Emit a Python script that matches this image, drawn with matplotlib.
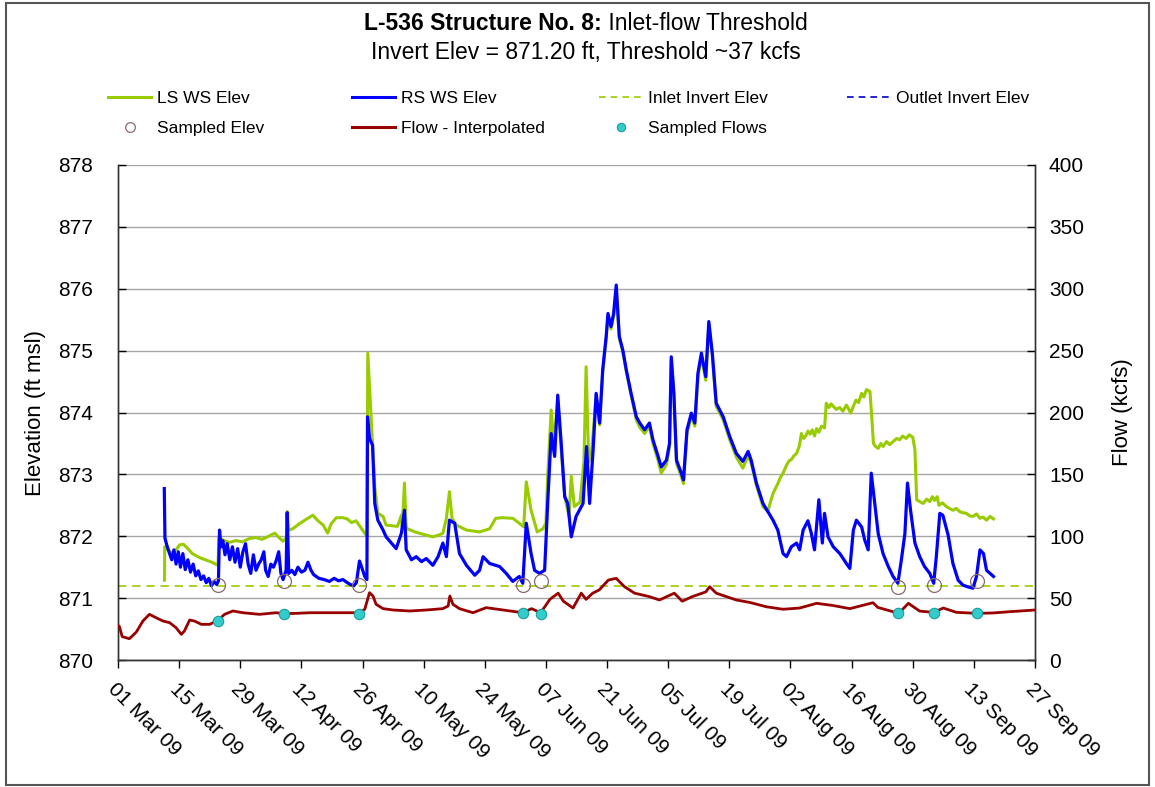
import numpy as np
import pandas as pd
import matplotlib
matplotlib.use("Agg")
import matplotlib.pyplot as plt
from matplotlib.lines import Line2D
from matplotlib.patches import Rectangle

plt.rcParams['font.family'] = ['Liberation Sans', 'DejaVu Sans']

# ---------------- data (days since 01 Mar 2009) ----------------
start_date = "2009-03-01"
end_date = "2009-09-27"

ls_days = [10.65, 10.7, 11.5, 12.5, 13.5, 14.1, 15.0, 16.0, 17.0, 18.5, 20.0, 21.5, 22.9, 23.1, 24.0, 25.5,
           27.0, 28.5, 30.0, 31.5, 33.0, 34.5, 35.9, 37.0, 37.8, 38.6, 38.75, 39.0, 40.0, 41.5, 43.0, 44.6,
           45.8, 47.0, 48.0, 48.8, 50.0, 51.5, 52.5, 53.5, 54.5, 55.5, 56.5, 57.0, 57.2, 57.6, 58.0, 58.8,
           59.5, 60.7, 61.4, 64.0, 64.9, 65.1, 65.6, 66.0, 68.0, 70.0, 72.1, 73.5, 74.4, 75.2, 75.9, 76.5,
           77.5, 79.8, 82.8, 85.1, 86.5, 88.0, 90.4, 91.9, 92.9, 93.5, 94.6, 96.0, 97.3, 98.0, 98.4, 99.2,
           99.8, 100.7, 101.5, 102.3, 103.3, 103.8, 104.5, 105.8, 106.7, 107.2, 107.8, 108.5, 109.5, 110.3,
           111.0, 111.8, 112.2, 112.9, 113.5, 114.1, 114.8, 115.6, 116.4, 117.5, 118.7, 119.5, 120.6, 121.7,
           122.5, 123.7, 124.4, 125.6, 126.3, 126.7, 127.3, 127.9, 129.0, 129.5, 130.3, 131.3, 132.1, 132.8,
           133.6, 134.6, 135.3, 136.1, 137.0, 138.6, 140.1, 141.6, 143.1, 144.3, 145.0, 146.2, 147.7, 148.8,
           149.4, 150.0, 150.6, 151.1, 151.7, 152.3, 152.8, 153.1, 153.7, 154.2, 154.8, 155.4, 156.0, 156.5,
           157.0, 157.5, 158.0, 158.5, 159.0, 159.5, 160.0, 160.5, 161.1, 161.8, 162.2, 162.8, 163.3, 163.8,
           164.5, 165.3, 166.0, 166.8, 167.3, 167.8, 168.4, 169.0, 169.6, 170.3, 170.8, 171.4, 172.2, 172.5,
           173.0, 173.5, 174.1, 174.7, 175.2, 176.0, 176.7, 177.5, 178.3, 179.0, 179.7, 180.5, 181.2, 182.0,
           182.5, 182.9, 183.6, 184.4, 185.2, 185.9, 186.5, 187.0, 187.6, 188.0, 188.8, 189.7, 190.4, 191.2,
           192.0, 192.7, 193.5, 194.3, 195.0, 195.8, 196.6, 197.4, 198.1, 198.9, 199.7, 200.5]
ls_elev = [871.29, 871.83, 871.78, 871.72, 871.80, 871.86, 871.87, 871.80, 871.72, 871.66, 871.62, 871.58, 871.53,
           871.97, 871.94, 871.90, 871.93, 871.91, 871.96, 871.98, 871.95, 872.00, 872.05, 871.97, 871.92, 871.98,
           872.40, 872.10, 872.12, 872.20, 872.27, 872.34, 872.25, 872.18, 872.05, 872.20, 872.30, 872.30, 872.28,
           872.22, 872.25, 872.15, 872.05, 872.00, 874.96, 874.42, 873.88, 872.80, 872.37, 872.32, 872.18, 872.16,
           872.34, 872.16, 872.86, 872.13, 872.07, 872.03, 871.99, 872.02, 872.05, 872.29, 872.72, 872.29, 872.18,
           872.10, 872.07, 872.12, 872.29, 872.30, 872.29, 872.21, 872.15, 872.88, 872.42, 872.07, 872.12, 872.21,
           872.97, 874.04, 873.50, 874.20, 873.40, 872.64, 872.32, 872.97, 872.48, 872.55, 873.20, 874.74, 873.20,
           873.40, 874.28, 873.80, 874.65, 875.20, 875.55, 875.35, 875.55, 876.00, 875.20, 874.98, 874.66, 874.28,
           873.88, 873.76, 873.66, 873.78, 873.50, 873.22, 873.02, 873.16, 873.45, 874.85, 874.28, 873.18, 872.96,
           872.85, 873.66, 873.94, 873.78, 874.58, 874.90, 874.52, 875.42, 874.92, 874.10, 873.88, 873.56, 873.28,
           873.10, 873.30, 873.18, 872.82, 872.48, 872.40, 872.55, 872.69, 872.78, 872.85, 872.95, 873.02, 873.10,
           873.15, 873.22, 873.24, 873.30, 873.34, 873.45, 873.66, 873.58, 873.62, 873.70, 873.65, 873.72, 873.62,
           873.74, 873.68, 873.78, 873.75, 874.15, 874.08, 874.14, 874.10, 874.05, 874.08, 874.02, 874.12, 874.06,
           873.99, 874.10, 874.20, 874.16, 874.31, 874.25, 874.37, 874.34, 874.05, 873.50, 873.45, 873.42, 873.50,
           873.45, 873.53, 873.48, 873.53, 873.58, 873.56, 873.62, 873.58, 873.64, 873.60, 873.40, 872.59, 872.56,
           872.53, 872.60, 872.56, 872.64, 872.58, 872.64, 872.50, 872.54, 872.48, 872.45, 872.42, 872.45, 872.40,
           872.38, 872.37, 872.33, 872.32, 872.36, 872.29, 872.31, 872.26, 872.32, 872.28]

rs_days = [10.6, 10.75, 11.2, 11.8, 12.3, 12.8, 13.3, 13.8, 14.3, 14.85, 15.4, 16.0, 16.6, 17.2, 17.8, 18.4,
           19.0, 19.6, 20.2, 20.8, 21.4, 22.0, 22.6, 23.0, 23.25, 23.6, 24.0, 24.5, 25.0, 25.6, 26.2, 26.8,
           27.4, 28.0, 28.6, 29.2, 29.8, 30.4, 31.0, 31.6, 32.2, 32.8, 33.4, 33.8, 34.4, 35.0, 35.6, 36.2,
           36.8, 37.3, 37.8, 38.5, 38.75, 39.1, 39.8, 40.5, 41.2, 42.0, 42.8, 43.5, 44.2, 44.8, 46.0, 47.2,
           48.4, 49.5, 50.5, 51.5, 52.5, 53.2, 54.0, 54.6, 55.3, 55.8, 56.5, 57.0, 57.15, 57.6, 58.3, 58.8,
           59.5, 60.7, 61.4, 63.7, 64.9, 65.6, 66.0, 67.2, 68.3, 69.5, 70.6, 72.1, 73.3, 74.4, 75.2, 75.9,
           77.1, 78.2, 79.8, 81.7, 82.8, 83.6, 85.1, 87.4, 88.9, 90.4, 91.9, 92.7, 93.5, 94.6, 95.4, 96.5,
           97.7, 98.4, 99.2, 100.0, 100.7, 101.5, 102.3, 103.0, 103.8, 104.9, 106.5, 107.3, 108.0, 108.8,
           109.5, 110.3, 111.0, 111.8, 112.2, 112.9, 113.5, 114.1, 114.8, 115.6, 116.4, 117.5, 118.7, 119.5,
           120.6, 121.7, 122.5, 123.7, 124.4, 125.6, 126.3, 126.7, 127.3, 127.9, 129.0, 129.5, 130.3, 131.3,
           132.1, 132.8, 133.6, 134.6, 135.3, 136.1, 137.0, 138.6, 140.1, 141.6, 143.1, 144.3, 145.0, 146.2,
           147.7, 150.0, 151.1, 152.3, 153.1, 154.2, 155.4, 156.1, 156.9, 158.0, 158.8, 159.5, 160.5, 161.3,
           161.8, 162.6, 163.8, 165.3, 166.8, 167.6, 168.4, 169.1, 170.3, 171.0, 171.8, 172.5, 173.3, 174.1,
           175.2, 176.4, 177.5, 178.6, 179.4, 180.2, 180.8, 181.5, 182.5, 183.6, 184.7, 185.9, 186.8, 187.4,
           188.2, 188.9, 190.1, 191.2, 192.4, 193.5, 194.7, 195.8, 196.6, 197.4, 198.2, 198.9, 199.7, 200.5]
rs_elev = [872.77, 871.97, 871.85, 871.72, 871.62, 871.78, 871.55, 871.75, 871.50, 871.72, 871.46, 871.62, 871.42,
           871.55, 871.36, 871.44, 871.30, 871.36, 871.25, 871.32, 871.20, 871.27, 871.22, 871.28, 872.10, 871.83,
           871.93, 871.70, 871.88, 871.62, 871.83, 871.58, 871.80, 871.50, 871.75, 871.88, 871.55, 871.40, 871.70,
           871.45, 871.55, 871.62, 871.75, 871.45, 871.35, 871.55, 871.50, 871.60, 871.75, 871.40, 871.30, 871.45,
           872.38, 871.40, 871.45, 871.38, 871.50, 871.42, 871.45, 871.58, 871.45, 871.38, 871.32, 871.30, 871.27,
           871.32, 871.28, 871.30, 871.25, 871.22, 871.20, 871.25, 871.60, 871.50, 871.35, 871.30, 873.93, 873.58,
           873.47, 872.53, 872.26, 872.10, 871.99, 871.80, 872.05, 872.42, 871.78, 871.62, 871.67, 871.59, 871.64,
           871.53, 871.67, 871.89, 871.67, 872.26, 872.21, 871.72, 871.53, 871.37, 871.45, 871.67, 871.56, 871.51,
           871.40, 871.27, 871.35, 871.24, 872.21, 871.72, 871.45, 871.40, 871.45, 872.53, 873.66, 873.29, 874.28,
           873.50, 872.64, 872.53, 871.99, 872.32, 872.53, 873.45, 872.53, 873.39, 874.31, 873.83, 874.69, 875.23,
           875.60, 875.39, 875.60, 876.06, 875.23, 875.01, 874.69, 874.31, 873.93, 873.83, 873.72, 873.83, 873.56,
           873.29, 873.12, 873.23, 873.50, 874.90, 874.31, 873.23, 873.02, 872.91, 873.72, 873.99, 873.83, 874.63,
           874.96, 874.58, 875.47, 874.96, 874.15, 873.93, 873.61, 873.34, 873.21, 873.37, 873.23, 872.86, 872.53,
           872.26, 872.10, 871.72, 871.67, 871.83, 871.89, 871.78, 872.10, 872.25, 872.04, 871.78, 872.59, 871.89,
           872.37, 871.99, 871.83, 871.72, 871.56, 871.48, 872.10, 872.26, 872.15, 871.94, 871.78, 873.02, 872.53,
           872.04, 871.72, 871.51, 871.35, 871.24, 871.62, 872.04, 872.86, 872.42, 871.89, 871.67, 871.51, 871.40,
           871.24, 871.67, 872.37, 872.34, 872.02, 871.56, 871.29, 871.21, 871.18, 871.16, 871.35, 871.78, 871.72,
           871.45, 871.40, 871.35]

flow_days = [0.0, 0.34, 0.96, 2.6, 4.2, 5.7, 7.2, 8.7, 10.3, 11.8, 13.3, 14.5, 15.2, 16.4, 17.5, 19.1, 21.0,
             23.0, 24.4, 26.3, 28.6, 32.4, 36.2, 38.1, 40.8, 43.9, 47.7, 51.5, 55.2, 56.5, 57.6, 58.4, 59.1,
             60.7, 63.0, 66.8, 70.6, 74.4, 75.6, 76.0, 76.7, 78.2, 81.3, 84.3, 88.2, 92.7, 94.7, 96.8, 98.9,
             100.8, 102.0, 104.2, 106.1, 107.2, 108.7, 110.2, 112.3, 114.1, 115.2, 116.0, 118.3, 121.7, 124.0,
             127.4, 129.2, 131.5, 134.6, 135.5, 137.0, 141.6, 144.7, 148.5, 152.3, 156.1, 160.0, 163.8, 167.6,
             172.9, 174.0, 178.8, 181.0, 183.6, 186.8, 189.0, 192.0, 196.7, 200.3, 204.1, 210.0]
flow_kcfs = [28.0, 26.9, 18.9, 17.2, 22.6, 31.5, 36.9, 34.2, 31.5, 30.2, 26.1, 20.7, 23.4, 32.3, 31.5, 28.8,
             28.8, 32.3, 36.9, 39.6, 38.2, 36.9, 38.2, 37.4, 37.7, 38.2, 38.2, 38.2, 38.2, 40.9, 54.4, 51.7,
             45.0, 41.5, 40.4, 39.6, 40.4, 41.5, 43.6, 51.7, 45.0, 41.5, 38.2, 42.3, 40.4, 38.2, 41.5, 38.2,
             49.0, 54.0, 47.5, 42.0, 54.0, 49.0, 54.0, 56.6, 64.6, 66.0, 62.0, 59.2, 54.0, 51.2, 48.5, 54.0,
             47.5, 51.2, 55.0, 59.2, 54.0, 48.5, 46.5, 43.0, 41.0, 42.0, 45.8, 44.0, 41.5, 46.3, 42.5, 37.7,
             45.8, 39.5, 38.5, 42.0, 38.5, 37.7, 38.0, 39.0, 40.4]

sampled_days = [23.0, 38.1, 55.2, 92.7, 96.8, 178.7, 186.8, 196.7]
sampled_elev = [871.21, 871.28, 871.21, 871.21, 871.28, 871.18, 871.22, 871.27]
sampled_flow = [31.8, 36.9, 37.2, 37.7, 37.4, 37.7, 38.0, 38.0]

inlet_invert = 871.20

elev_ticks = [870, 871, 872, 873, 874, 875, 876, 877, 878]
flow_ticks = [0, 50, 100, 150, 200, 250, 300, 350, 400]

# ---------------- helpers ----------------
base = np.datetime64(start_date)


def to_dates(days):
    return base + (np.asarray(days, dtype=float) * 1440).round().astype('timedelta64[m]')


C_LS = '#99CC00'
C_RS = '#0000FF'
C_FLOW = '#990000'
C_INLET = '#99CC00'
C_OUTLET = '#0000CC'
C_CIRC = '#8A6A6A'
C_CYAN = '#33CCCC'

fig = plt.figure(figsize=(11.55, 7.87), dpi=100)
ax = fig.add_axes([118 / 1155, 1 - 660 / 787, (1035 - 118) / 1155, (660 - 165) / 787])
ax2 = ax.twinx()

# elevation lines (the outlet invert line is hidden under the inlet line in the original)
ax.axhline(inlet_invert, color=C_INLET, lw=1.2, dashes=(5, 3.5), zorder=2.1)
ax.plot(to_dates(ls_days), ls_elev, color=C_LS, lw=2.2, zorder=3)
ax.plot(to_dates(rs_days), rs_elev, color=C_RS, lw=2.3, zorder=4)
ax.plot(to_dates(sampled_days), sampled_elev, ls='none', marker='o', ms=10,
        mfc='none', mec=C_CIRC, mew=0.9, zorder=5)

# flow
ax2.plot(to_dates(flow_days), flow_kcfs, color=C_FLOW, lw=2.0, zorder=3)
ax2.plot(to_dates(sampled_days), sampled_flow, ls='none', marker='o', ms=7.5,
         mfc=C_CYAN, mec='#1A9C9C', mew=0.8, zorder=4)

# axes
xt = pd.date_range(start_date, end_date, freq='14D')
ax.set_xlim(np.datetime64(start_date), np.datetime64(end_date))
ax.set_xticks(xt)
ax.set_xticklabels([d.strftime('%d %b %y') for d in xt], rotation=-45,
                   ha='left', va='top', rotation_mode='anchor', fontsize=15)
ax.set_ylim(elev_ticks[0], elev_ticks[-1])
ax.set_yticks(elev_ticks)
ax.set_yticklabels([str(v) for v in elev_ticks], fontsize=15)
ax2.set_ylim(flow_ticks[0], flow_ticks[-1])
ax2.set_yticks(flow_ticks)
ax2.set_yticklabels([str(v) for v in flow_ticks], fontsize=15)

ax.tick_params(axis='x', direction='out', length=6, width=1, pad=8)
ax.tick_params(axis='y', direction='in', length=6, width=1, pad=18)
ax2.tick_params(axis='y', direction='in', length=6, width=1, pad=10)

ax.yaxis.grid(True, color='#A6A6A6', lw=1.0)
ax.set_axisbelow(True)
for a in (ax, ax2):
    a.spines['top'].set_visible(False)
    for s in ('left', 'right', 'bottom'):
        a.spines[s].set_color('#333333')
        a.spines[s].set_linewidth(1.0)

ax.set_ylabel('Elevation (ft msl)', fontsize=16, labelpad=9)
ax2.set_ylabel('Flow (kcfs)', fontsize=16, labelpad=20)

# title (mixed weight first line)
t1 = fig.text(0, 1 - 24 / 787, 'L-536 Structure No. 8:', fontsize=16.5, fontweight='bold', va='center')
t2 = fig.text(0, 1 - 24 / 787, ' Inlet-flow Threshold', fontsize=16.5, va='center')
fig.text(586 / 1155, 1 - 52 / 787, 'Invert Elev = 871.20 ft, Threshold ~37 kcfs', fontsize=16.5,
         ha='center', va='center')
fig.canvas.draw()
r = fig.canvas.get_renderer()
w1 = t1.get_window_extent(r).width
w2 = t2.get_window_extent(r).width
x0 = 586 - (w1 + w2) / 2
t1.set_x(x0 / 1155)
t2.set_x((x0 + w1) / 1155)

# legend (4 columns, placed individually)
h_ls = Line2D([], [], color=C_LS, lw=2.2)
h_rs = Line2D([], [], color=C_RS, lw=2.2)
h_in = Line2D([], [], color=C_INLET, lw=1.2, dashes=(4, 3))
h_out = Line2D([], [], color=C_OUTLET, lw=1.2, dashes=(4, 3))
h_se = Line2D([], [], ls='none', marker='o', ms=7, mfc='none', mec=C_CIRC, mew=0.9)
h_fl = Line2D([], [], color=C_FLOW, lw=2.2)
h_sf = Line2D([], [], ls='none', marker='o', ms=6, mfc=C_CYAN, mec='#1A9C9C', mew=0.8)

cols = [([h_ls, h_se], ['LS WS Elev', 'Sampled Elev'], 108),
        ([h_rs, h_fl], ['RS WS Elev', 'Flow - Interpolated'], 352),
        ([h_in, h_sf], ['Inlet Invert Elev', 'Sampled Flows'], 599),
        ([h_out], ['Outlet Invert Elev'], 847)]
for hs, ls, xpx in cols:
    fig.legend(hs, ls, loc='upper left', bbox_to_anchor=(xpx / 1155, 1 - 91 / 787),
               frameon=False, fontsize=12.5, handlelength=2.5, handletextpad=0.3,
               borderpad=0, borderaxespad=0, labelspacing=0.85)

fig.add_artist(Rectangle((6 / 1155, 2 / 787), 1143 / 1155, 782 / 787, transform=fig.transFigure,
                         fill=False, edgecolor='#555555', lw=1.5))

fig.savefig('out.png', dpi=100)
